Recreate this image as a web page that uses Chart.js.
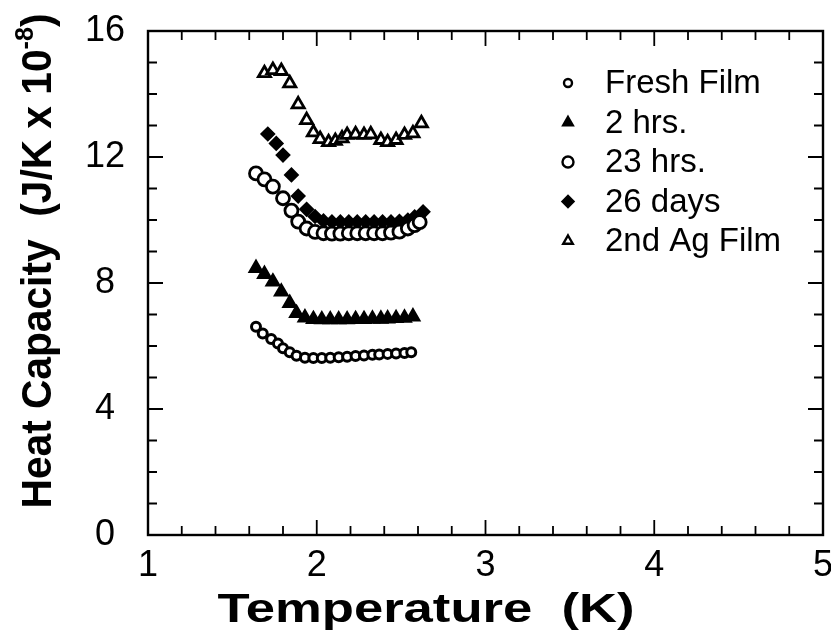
<!DOCTYPE html>
<html>
<head>
<meta charset="utf-8">
<script src="https://cdn.jsdelivr.net/npm/chart.js@4.4.0/dist/chart.umd.min.js"></script>
<style>
html,body{margin:0;padding:0;background:#fff;overflow:hidden;}
#wrap{width:831px;height:636px;overflow:hidden;}
</style>
</head>
<body>
<div id="wrap"><canvas id="c" width="850" height="636"></canvas></div>
<script>
// Heat capacity of the Ag films vs temperature
// T in K, C in J/K x 1e-8
const freshT = [1.64,1.68,1.73,1.77,1.80,1.84,1.88,1.93,1.98,2.03,2.08,2.13,2.18,2.23,2.28,2.33,2.37,2.42,2.47,2.52,2.56];
const freshC = [6.61,6.40,6.22,6.08,5.93,5.80,5.69,5.63,5.62,5.62,5.63,5.64,5.66,5.68,5.70,5.72,5.73,5.75,5.76,5.78,5.80];

const hrs2T = [1.64,1.69,1.74,1.79,1.84,1.88,1.93,1.98,2.03,2.08,2.13,2.18,2.23,2.28,2.33,2.38,2.42,2.47,2.52,2.57];
const hrs2C = [8.47,8.28,8.04,7.72,7.36,7.04,6.90,6.85,6.84,6.84,6.84,6.84,6.85,6.85,6.86,6.86,6.87,6.88,6.89,6.93];

const hrs23T = [1.64,1.69,1.74,1.80,1.85,1.89,1.94,1.99,2.04,2.09,2.14,2.19,2.24,2.29,2.34,2.39,2.44,2.49,2.54,2.58,2.61];
const hrs23C = [11.48,11.29,11.06,10.69,10.30,9.95,9.73,9.62,9.58,9.57,9.57,9.58,9.58,9.58,9.58,9.58,9.60,9.63,9.73,9.84,9.93];

const days26T = [1.71,1.76,1.80,1.85,1.89,1.94,1.99,2.04,2.09,2.14,2.19,2.24,2.29,2.34,2.39,2.44,2.49,2.54,2.58,2.63];
const days26C = [12.73,12.43,12.06,11.43,10.76,10.34,10.11,9.97,9.94,9.94,9.94,9.94,9.94,9.94,9.94,9.94,9.96,10.00,10.10,10.26];

const agT = [1.69,1.74,1.79,1.84,1.89,1.94,1.98,2.02,2.07,2.11,2.15,2.18,2.23,2.28,2.32,2.38,2.42,2.47,2.52,2.57,2.62];
const agC = [14.66,14.76,14.73,14.34,13.67,13.17,12.78,12.57,12.47,12.51,12.59,12.70,12.72,12.70,12.72,12.54,12.47,12.54,12.70,12.75,13.07];

const xTicks = [1,2,3,4,5];
const yTicks = [0,4,8,12,16];

function pts(T, C) { return T.map((t,i)=>({x:t, y:C[i]})); }

const tickFont = {family:'"Liberation Sans", Arial, sans-serif', size:36};

// box around the plot with inward ticks on all four sides
const frame = {
  id: 'frame',
  afterDraw(chart) {
    const {ctx, chartArea:a, scales:{x, y}} = chart;
    ctx.save();
    ctx.strokeStyle = '#000';
    ctx.lineWidth = 2.4;
    ctx.strokeRect(a.left, a.top, a.right-a.left, a.bottom-a.top);
    ctx.lineWidth = 1.8;
    ctx.beginPath();
    for (let i = 0; i <= 20; i++) {
      const v = 1 + i*0.2, px = x.getPixelForValue(v);
      const len = i%5===0 ? 15 : 9;
      ctx.moveTo(px, a.bottom); ctx.lineTo(px, a.bottom-len);
      ctx.moveTo(px, a.top); ctx.lineTo(px, a.top+len);
    }
    for (let v = 0; v <= 16; v++) {
      const py = y.getPixelForValue(v);
      const len = v%4===0 ? 15 : 9;
      ctx.moveTo(a.left, py); ctx.lineTo(a.left+len, py);
      ctx.moveTo(a.right, py); ctx.lineTo(a.right-len, py);
    }
    ctx.stroke();
    ctx.restore();
  }
};

// axis titles, drawn stretched like the old Helvetica of the figure
const titles = {
  id: 'titles',
  afterDraw(chart) {
    const ctx = chart.ctx;
    const big = 'bold 42px "Liberation Sans", Arial, sans-serif';
    const sup = 'bold 26px "Liberation Sans", Arial, sans-serif';
    ctx.save();
    ctx.fillStyle = '#000';
    ctx.textBaseline = 'alphabetic';
    // x title
    ctx.font = 'bold 40px "Liberation Sans", Arial, sans-serif';
    const s = 'Temperature  (K)';
    const sx = 417 / ctx.measureText(s).width;
    ctx.save();
    ctx.translate(426, 622);
    ctx.scale(sx, 1);
    ctx.textAlign = 'center';
    ctx.fillText(s, 0, 0);
    ctx.restore();
    // y title, rotated, with superscript -8
    const main = 'Heat Capacity  (J/K x 10';
    ctx.font = big;
    const w1 = ctx.measureText(main).width;
    ctx.font = sup;
    const w2 = ctx.measureText('-8').width;
    ctx.font = big;
    const w3 = ctx.measureText(')').width;
    const total = w1 + w2 + w3;
    const sy = 495 / total;
    ctx.save();
    ctx.translate(51, 261);
    ctx.rotate(-Math.PI/2);
    ctx.scale(sy, 1);
    ctx.textAlign = 'left';
    const x0 = -total/2;
    ctx.fillText(main, x0, 0);
    ctx.font = sup;
    ctx.fillText('-8', x0 + w1, -18);
    ctx.font = big;
    ctx.fillText(')', x0 + w1 + w2, 0);
    ctx.restore();
    ctx.restore();
  }
};

// legend in the upper right of the plot, smaller markers than the data
const legendBox = {
  id: 'legendBox',
  afterDraw(chart) {
    const ctx = chart.ctx;
    const sizes = [4, 5.5, 5.5, 5.5, 5.5];
    ctx.save();
    ctx.font = '33px "Liberation Sans", Arial, sans-serif';
    ctx.textBaseline = 'middle';
    ctx.textAlign = 'left';
    chart.data.datasets.forEach((ds, i) => {
      const yy = 83 + i*39.5;
      ctx.fillStyle = ds.backgroundColor;
      ctx.strokeStyle = '#000';
      ctx.lineWidth = 2.4;
      Chart.helpers.drawPoint(ctx, {pointStyle: ds.pointStyle, radius: sizes[i], borderWidth: 2.4, rotation: 0}, 568, yy);
      ctx.fillStyle = '#000';
      ctx.fillText(ds.label, 605, yy + 1);
    });
    ctx.restore();
  }
};

function series(label, T, C, style, filled, r, bw) {
  return {
    label: label,
    data: pts(T, C),
    showLine: false,
    pointStyle: style,
    pointRadius: r,
    pointHoverRadius: r,
    borderWidth: bw,
    pointBorderWidth: bw,
    borderColor: '#000',
    backgroundColor: filled ? '#000' : '#fff'
  };
}

new Chart(document.getElementById('c'), {
  type: 'scatter',
  data: {
    datasets: [
      series('Fresh Film', freshT, freshC, 'circle', false, 4.5, 3),
      series('2 hrs.', hrs2T, hrs2C, 'triangle', true, 7, 2.6),
      series('23 hrs.', hrs23T, hrs23C, 'circle', false, 6.5, 2.8),
      series('26 days', days26T, days26C, 'rectRot', true, 6, 2.6),
      series('2nd Ag Film', agT, agC, 'triangle', false, 7, 2.8)
    ]
  },
  options: {
    responsive: false,
    animation: false,
    layout: {padding: {left: 0, right: 27, top: 31, bottom: 0}},
    plugins: {legend: {display: false}, tooltip: {enabled: false}},
    scales: {
      x: {
        type: 'linear', min: 1, max: 5,
        afterBuildTicks: s => { s.ticks = xTicks.map(v => ({value: v})); },
        afterFit: s => { s.height = 101; },
        grid: {display: false, drawTicks: false},
        border: {display: false},
        ticks: {font: tickFont, color: '#000', padding: 9, maxRotation: 0}
      },
      y: {
        type: 'linear', min: 0, max: 16,
        afterBuildTicks: s => { s.ticks = yTicks.map(v => ({value: v})); },
        afterFit: s => { s.width = 148; s.paddingTop = 10; s.paddingBottom = 10; },
        grid: {display: false, drawTicks: false},
        border: {display: false},
        ticks: {font: tickFont, color: '#000', padding: 23, crossAlign: 'center'}
      }
    }
  },
  plugins: [frame, titles, legendBox]
});
</script>
</body>
</html>
